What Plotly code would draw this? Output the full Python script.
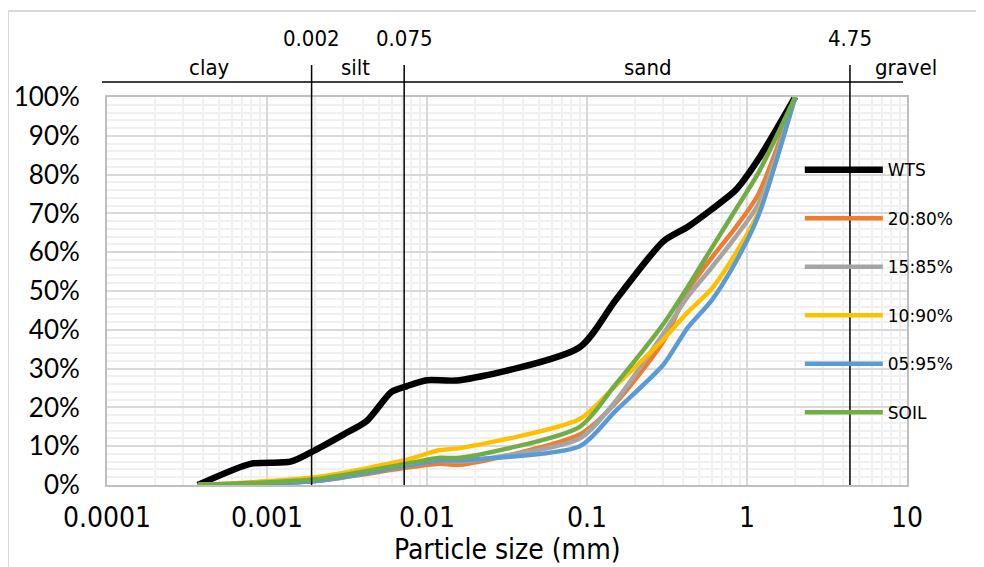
import math
import plotly.graph_objects as go

# ---- data ----
wts_size = [0.00037, 0.0008, 0.0014, 0.002, 0.003, 0.0042, 0.006, 0.0075, 0.01, 0.016,
            0.09, 0.15, 0.3, 0.425, 0.6, 0.85, 1.18, 2.0]
wts_pass = [0, 5.5, 6, 9, 13, 16.5, 24, 25.5, 27, 27,
            35.5, 47.5, 62.8, 66.5, 71, 76, 84, 100]

mix_size = [0.00037, 0.002, 0.0075, 0.012, 0.016, 0.09, 0.15, 0.3, 0.425, 0.6, 0.85, 1.18, 2.0]
p_20_80 = [0, 1.0, 4.5, 5.5, 5.2, 13, 21, 37, 50, 58.5, 66.4, 75, 100]
p_15_85 = [0, 1.0, 5.0, 6.3, 6.0, 12, 21.5, 39, 48.5, 56, 64, 72.5, 100]
p_10_90 = [0, 2.0, 6.5, 9.0, 9.5, 17, 25.5, 37.5, 44.5, 50.5, 59.7, 70.3, 100]
p_05_95 = [0, 1.0, 5.0, 6.3, 6.4, 10, 19, 31, 40.5, 47.5, 57.5, 69.5, 100]
p_soil = [0, 1.5, 5.5, 7.0, 7.0, 15, 25.8, 41.5, 51, 61, 71, 80.5, 100]

series_names = ["WTS", "20:80%", "15:85%", "10:90%", "05:95%", "SOIL"]
series_colors = ["#000000", "#ED7D31", "#A5A5A5", "#FFC000", "#5B9BD5", "#70AD47"]

x_tick_vals = [0.0001, 0.001, 0.01, 0.1, 1, 10]
x_tick_text = ["0.0001", "0.001", "0.01", "0.1", "1", "10"]

boundary_pos = [0.0019, 0.0072, 4.4]
boundary_text = ["0.002", "0.075", "4.75"]
region_pos = [0.00044, 0.00355, 0.24, 9.86]
region_text = ["clay", "silt", "sand", "gravel"]

# ---- figure ----
fig = go.Figure()
ys = [wts_pass, p_20_80, p_15_85, p_10_90, p_05_95, p_soil]
for i, (name, col, y) in enumerate(zip(series_names, series_colors, ys)):
    x = wts_size if i == 0 else mix_size
    fig.add_trace(go.Scatter(
        x=x, y=y, name=name, mode="lines",
        line=dict(color=col, width=6.5 if i == 0 else 4.5, shape="spline", smoothing=0.7),
        legendgroup=name,
    ))

minor_x = [k * 10 ** e for e in range(-4, 1) for k in range(2, 10)]

# the page body adds an 8 px offset, so the figure is 8 px smaller on each axis
fig.update_layout(
    width=976, height=559,
    margin=dict(l=99, r=77, t=89, b=82),
    paper_bgcolor="white", plot_bgcolor="white",
    font=dict(family="DejaVu Sans", color="#000000"),
    showlegend=True,
    legend=dict(
        x=0.866, y=0.858, xanchor="left", yanchor="top",
        bgcolor="rgba(0,0,0,0)", font=dict(size=17, family="DejaVu Sans"),
        tracegroupgap=23.4, itemwidth=78,
    ),
    xaxis=dict(
        type="log", range=[-4, 1], automargin=False,
        tickvals=x_tick_vals, ticktext=x_tick_text,
        tickfont=dict(size=28, family="DejaVu Sans Condensed"),
        showgrid=True, gridcolor="#d9d9d9", gridwidth=2,
        minor=dict(tickvals=minor_x, showgrid=True, gridcolor="#f0f0f0", gridwidth=2, ticks=""),
        showline=True, linecolor="#bfbfbf", linewidth=2, mirror=True,
        ticks="", ticklabelstandoff=6, zeroline=False,
    ),
    yaxis=dict(
        range=[0, 100], dtick=10, ticksuffix="%", automargin=False,
        tickfont=dict(size=26, family="Lato"),
        showgrid=True, gridcolor="#d9d9d9", gridwidth=2,
        minor=dict(dtick=2, showgrid=True, gridcolor="#f0f0f0", gridwidth=2, ticks=""),
        showline=True, linecolor="#bfbfbf", linewidth=2, mirror=True,
        ticks="", ticklabelstandoff=20, zeroline=False,
    ),
)

# x-axis title
fig.add_annotation(x=0.5, y=-0.167, xref="paper", yref="paper", text="Particle size (mm)",
                   showarrow=False, xanchor="center", yanchor="middle",
                   font=dict(size=28, family="DejaVu Sans Condensed"))

# chart-area border
fig.add_shape(type="rect", xref="paper", yref="paper", x0=-0.12375, x1=1.3, y0=-0.5, y1=1.2216,
              line=dict(color="#d9d9d9", width=2), layer="below")

# horizontal separator line above plot
fig.add_shape(type="line", xref="paper", yref="paper", x0=-0.00625, x1=0.995, y0=1.0387, y1=1.0387,
              line=dict(color="black", width=1.5))

for pos, txt in zip(boundary_pos, boundary_text):
    fig.add_shape(type="line", xref="x", yref="paper", x0=pos, x1=pos, y0=0, y1=1.0825,
                  line=dict(color="black", width=1.5))
    fig.add_annotation(x=math.log10(pos), y=1.152, xref="x", yref="paper", text=txt,
                       showarrow=False, xanchor="center", yanchor="middle",
                       font=dict(size=22, family="DejaVu Sans Condensed"))

for pos, txt in zip(region_pos, region_text):
    fig.add_annotation(x=math.log10(pos), y=1.075, xref="x", yref="paper", text=txt,
                       showarrow=False, xanchor="center", yanchor="middle",
                       font=dict(size=22, family="DejaVu Sans Condensed"))

fig.write_html("out.html")
